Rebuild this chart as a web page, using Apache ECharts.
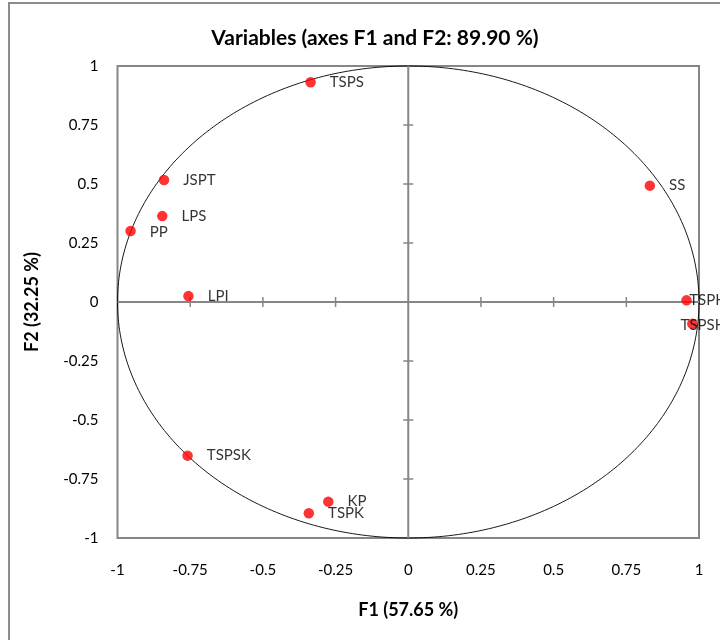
<!DOCTYPE html>
<html>
<head>
<meta charset="utf-8">
<script src="https://cdn.jsdelivr.net/npm/echarts@6/dist/echarts.min.js"></script>
<style>html,body{margin:0;padding:0;background:#fff;}#c{width:720px;height:640px;}</style>
</head>
<body>
<div id="c"></div>
<script>
var names = ['TSPS','JSPT','LPS','PP','LPI','SS','TSPH','TSPSH','TSPSK','KP','TSPK'];
var f1 = [-0.336,-0.840,-0.846,-0.955,-0.756,0.831,0.957,0.977,-0.759,-0.275,-0.342];
var f2 = [0.931,0.517,0.364,0.301,0.025,0.493,0.007,-0.092,-0.651,-0.846,-0.895];
var ticks = [-1,-0.75,-0.5,-0.25,0,0.25,0.5,0.75,1];
var labelOffsets = {TSPH:[-16.5,0], TSPSH:[-31,1], KP:[0,0], PP:[0,1]};

var FONT = 'Lato';
var chart = echarts.init(document.getElementById('c'));
var pts = names.map(function(n,i){
  var item = {name:n, value:[f1[i], f2[i]]};
  if (labelOffsets[n]) item.label = {offset: labelOffsets[n]};
  return item;
});

function renderRef(params, api){
  var children = [];
  var pts = [];
  for (var k=0;k<=360;k++){
    var t = k*Math.PI/180;
    pts.push(api.coord([Math.cos(t), Math.sin(t)]));
  }
  children.push({type:'polyline', shape:{points:pts}, style:{stroke:'#000', lineWidth:0.9, fill:null}});
  var l = api.coord([-1,0]), r = api.coord([1,0]), t0 = api.coord([0,1]), b = api.coord([0,-1]);
  var axStyle = {stroke:'#868686', lineWidth:2};
  children.push({type:'line', shape:{x1:l[0],y1:l[1],x2:r[0],y2:r[1]}, style:axStyle});
  children.push({type:'line', shape:{x1:t0[0],y1:t0[1],x2:b[0],y2:b[1]}, style:axStyle});
  ticks.forEach(function(v){
    if (v===0 || v===-1 || v===1) return;
    var p = api.coord([v,0]);
    children.push({type:'line', shape:{x1:p[0],y1:p[1]-5,x2:p[0],y2:p[1]+5}, style:{stroke:'#868686', lineWidth:1.5}});
    var q = api.coord([0,v]);
    children.push({type:'line', shape:{x1:q[0]-5,y1:q[1],x2:q[0]+5,y2:q[1]}, style:{stroke:'#868686', lineWidth:1.5}});
  });
  return {type:'group', children:children};
}

var option = {
  backgroundColor:'#fff',
  animation:false,
  textStyle:{fontFamily:FONT},
  title:{text:'Variables (axes F1 and F2: 89.90 %)', left:370, textAlign:'center', top:23,
    textStyle:{fontFamily:FONT, fontWeight:'bold', fontSize:21, color:'#000'}},
  graphic:[{type:'rect', shape:{x:9,y:3,width:800,height:700}, style:{fill:null, stroke:'#8c8c8c', lineWidth:2}, silent:true}],
  grid:{left:117.5, right:21, top:66, bottom:102, show:true, borderColor:'#868686', borderWidth:2, backgroundColor:'transparent'},
  xAxis:{type:'value', min:-1, max:1, interval:0.25,
    name:'F1 (57.65 %)', nameLocation:'middle', nameGap:63,
    nameTextStyle:{fontFamily:FONT, fontWeight:'bold', fontSize:18, color:'#000'},
    axisLine:{show:false, onZero:false}, axisTick:{show:false}, splitLine:{show:false},
    axisLabel:{margin:25, fontFamily:FONT, fontSize:15, color:'#000'}},
  yAxis:{type:'value', min:-1, max:1, interval:0.25,
    name:'F2 (32.25 %)', nameLocation:'middle', nameGap:76, nameRotate:90,
    nameTextStyle:{fontFamily:FONT, fontWeight:'bold', fontSize:18, color:'#000'},
    axisLine:{show:false, onZero:false}, axisTick:{show:false}, splitLine:{show:false},
    axisLabel:{margin:19, fontFamily:FONT, fontSize:15, color:'#000'}},
  series:[
    {type:'custom', renderItem:renderRef, data:[[0,0]], silent:true, z:1, clip:false},
    {type:'scatter', data:pts, symbol:'circle', symbolSize:10.5, z:5,
      itemStyle:{color:'#ff0000'},
      label:{show:true, position:'right', distance:14, formatter:'{b}', fontFamily:FONT, fontSize:15, color:'#000'}}
  ]
};
chart.setOption(option);
</script>
</body>
</html>
